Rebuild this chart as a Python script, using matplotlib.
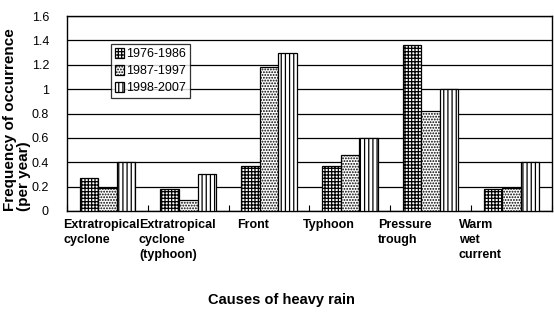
import numpy as np
import matplotlib
matplotlib.use("Agg")
import matplotlib.pyplot as plt
from matplotlib.transforms import ScaledTranslation

plt.rcParams["font.family"] = ["Liberation Sans", "DejaVu Sans"]
plt.rcParams["hatch.linewidth"] = 0.9

causes = [
    "Extratropical\ncyclone",
    "Extratropical\ncyclone\n(typhoon)",
    "Front",
    "Typhoon",
    "Pressure\ntrough",
    "Warm\nwet\ncurrent",
]
periods = ["1976-1986", "1987-1997", "1998-2007"]
p1976 = [0.27, 0.18, 0.37, 0.37, 1.36, 0.18]
p1987 = [0.19, 0.09, 1.18, 0.46, 0.82, 0.19]
p1998 = [0.40, 0.30, 1.30, 0.60, 1.00, 0.40]
y_ticks = [0, 0.2, 0.4, 0.6, 0.8, 1, 1.2, 1.4, 1.6]
y_tick_labels = ["0", "0.2", "0.4", "0.6", "0.8", "1", "1.2", "1.4", "1.6"]

hatches = ["+++++", "......", "||||"]

fig = plt.figure(figsize=(5.54, 3.22), dpi=100)
ax = fig.add_axes([0.121, 0.345, 0.875, 0.605])

x = np.arange(len(causes))
width = 0.23
for i, (vals, label) in enumerate(zip([p1976, p1987, p1998], periods)):
    ax.bar(x + (i - 1) * width, vals, width, label=label, facecolor="white",
           edgecolor="black", linewidth=0.9, hatch=hatches[i], zorder=3)

ax.set_xlim(-0.5, len(causes) - 0.5)
ax.set_ylim(0, 1.6)
ax.set_yticks(y_ticks)
ax.set_yticklabels(y_tick_labels, fontsize=9)
ax.yaxis.grid(True, color="black", linewidth=0.9)
ax.set_axisbelow(True)
ax.tick_params(axis="y", length=0, pad=13)

ax.set_xticks(x)
ax.set_xticklabels(causes, fontsize=9, fontweight="bold", linespacing=1.3,
                   va="top", ha="center", multialignment="left")
ax.set_xticks(np.arange(len(causes) + 1) - 0.5, minor=True)
ax.tick_params(axis="x", which="major", length=0, pad=6)
ax.tick_params(axis="x", which="minor", direction="in", length=4, width=0.8)
for i, lbl in enumerate(ax.get_xticklabels()):
    lbl.set_transform(lbl.get_transform() +
                      ScaledTranslation(-(6 + 5 * i) / 100, 0, fig.dpi_scale_trans))

for s in ax.spines.values():
    s.set_color("black")
    s.set_linewidth(1)

fig.text(0.031, 0.63, "Frequency of occurrence\n(per year)", fontsize=11,
         fontweight="bold", rotation=90, ha="center", va="center",
         linespacing=0.95, multialignment="left")

fig.text(0.508, 0.068, "Causes of heavy rain", fontsize=10.5,
         fontweight="bold", ha="center", va="center")

leg = ax.legend(loc="upper left", bbox_to_anchor=(0.0907, 0.856),
                borderaxespad=0, fontsize=9, frameon=True, fancybox=False,
                handlelength=0.7, handleheight=0.9, handletextpad=0.2,
                labelspacing=0.35, borderpad=0.3)
leg.get_frame().set_edgecolor("black")
leg.get_frame().set_linewidth(0.9)
leg.set_zorder(5)

fig.savefig("out.png", dpi=100)
